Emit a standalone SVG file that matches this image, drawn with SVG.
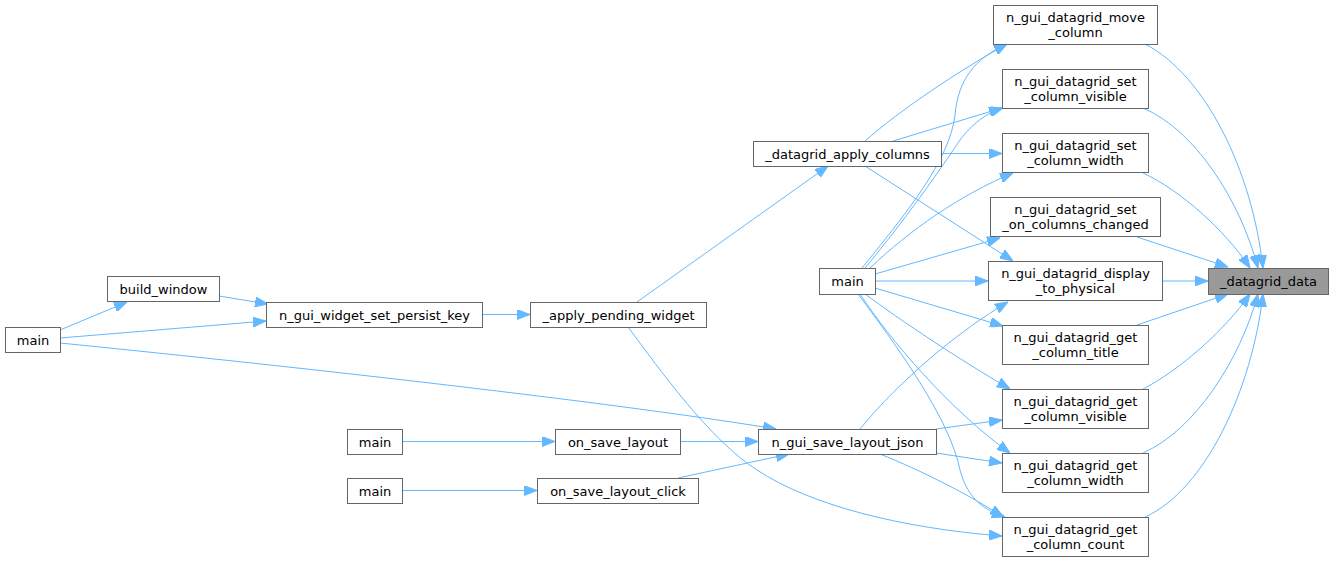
<svg xmlns="http://www.w3.org/2000/svg" width="1333" height="563" viewBox="0 0 1333 563">
<style>
.n rect{fill:#ffffff;stroke:#666666;stroke-width:1}
.n.hl rect{fill:#999999}
text{font-family:"DejaVu Sans",sans-serif;font-size:13px;fill:#000000;text-anchor:middle}
.e path{fill:none;stroke:#63b8ff;stroke-width:1;marker-end:url(#ah)}
</style>
<defs>
<marker id="ah" markerUnits="userSpaceOnUse" markerWidth="13" markerHeight="10" viewBox="0 0 13 10" refX="13" refY="5" orient="auto">
<path d="M0,0 L13,5 L0,10 z" fill="#63b8ff" stroke="#63b8ff"/>
</marker>
</defs>
<rect width="1333" height="563" fill="#ffffff"/>
<g class="e" id="edges">
<path d="M1145,44 C1205,75 1252,170 1263,268"/>
<path d="M1143,108 C1195,130 1240,200 1258,268"/>
<path d="M1143,173 C1180,190 1225,230 1250,268"/>
<path d="M1137,237 L1228,267"/>
<path d="M1162,281 L1208,281"/>
<path d="M1137,325 L1228,294"/>
<path d="M1143,389 C1180,370 1225,330 1250,294"/>
<path d="M1143,453 C1195,430 1240,360 1258,294"/>
<path d="M1145,517 C1205,490 1252,390 1263,294"/>
<path d="M865,141 C900,110 960,70 1007,44"/>
<path d="M893,141 L1002,108"/>
<path d="M941,153.5 L1002,153.5"/>
<path d="M865,166 L1013,261"/>
<path d="M862,268 C905,215 950,160 955,115 C958,80 975,58 1007,44"/>
<path d="M865,268 C905,220 940,170 960,140 C975,120 990,112 1003,108"/>
<path d="M870,268 C910,230 960,195 1013,173"/>
<path d="M875,274 L1000,238"/>
<path d="M875,281 L988,281"/>
<path d="M875,288 L1003,326"/>
<path d="M865,294 C900,320 960,360 1010,389"/>
<path d="M860,294 C890,340 950,410 1010,453"/>
<path d="M858,294 C900,350 950,420 960,470 C968,500 985,510 1005,517"/>
<path d="M637,302 L828,166"/>
<path d="M628,327 C660,370 710,440 757,470 C810,505 900,528 1002,536"/>
<path d="M860,429 C900,380 960,330 1008,302"/>
<path d="M936,429 L1002,420"/>
<path d="M936,453 L1002,463"/>
<path d="M880,454 C920,470 970,495 1003,517"/>
<path d="M60,330 L127,302"/>
<path d="M219,296 L268,304"/>
<path d="M60,338 L266,321"/>
<path d="M60,343 C250,362 600,400 776,429"/>
<path d="M482,314.5 L530,314.5"/>
<path d="M402,441.5 L555,441.5"/>
<path d="M402,490.5 L537,490.5"/>
<path d="M680,441.5 L758,441.5"/>
<path d="M678,478 L789,454"/>
</g>
<g class="n hl" id="n_datagrid_data"><rect x="1208.5" y="268.5" width="120" height="26"/><text x="1268.5" y="286">_datagrid_data</text></g>
<g class="n" id="n_move_column"><rect x="993.5" y="5.5" width="164" height="39"/><text x="1075.5" y="22">n_gui_datagrid_move</text><text x="1075.5" y="37">_column</text></g>
<g class="n" id="n_set_column_visible"><rect x="1002.5" y="69.5" width="146" height="39"/><text x="1075.5" y="86">n_gui_datagrid_set</text><text x="1075.5" y="101">_column_visible</text></g>
<g class="n" id="n_set_column_width"><rect x="1002.5" y="133.5" width="146" height="39"/><text x="1075.5" y="150">n_gui_datagrid_set</text><text x="1075.5" y="165">_column_width</text></g>
<g class="n" id="n_set_on_columns_changed"><rect x="990.5" y="197.5" width="170" height="39"/><text x="1075.5" y="214">n_gui_datagrid_set</text><text x="1075.5" y="229">_on_columns_changed</text></g>
<g class="n" id="n_display_to_physical"><rect x="988.5" y="261.5" width="174" height="39"/><text x="1075.5" y="278">n_gui_datagrid_display</text><text x="1075.5" y="293">_to_physical</text></g>
<g class="n" id="n_get_column_title"><rect x="1002.5" y="325.5" width="146" height="39"/><text x="1075.5" y="342">n_gui_datagrid_get</text><text x="1075.5" y="357">_column_title</text></g>
<g class="n" id="n_get_column_visible"><rect x="1002.5" y="389.5" width="146" height="39"/><text x="1075.5" y="406">n_gui_datagrid_get</text><text x="1075.5" y="421">_column_visible</text></g>
<g class="n" id="n_get_column_width"><rect x="1002.5" y="453.5" width="146" height="39"/><text x="1075.5" y="470">n_gui_datagrid_get</text><text x="1075.5" y="485">_column_width</text></g>
<g class="n" id="n_get_column_count"><rect x="1002.5" y="517.5" width="146" height="39"/><text x="1075.5" y="534">n_gui_datagrid_get</text><text x="1075.5" y="549">_column_count</text></g>
<g class="n" id="n_apply_columns"><rect x="753.5" y="141.5" width="188" height="25"/><text x="847.5" y="158.5">_datagrid_apply_columns</text></g>
<g class="n" id="n_main_mid"><rect x="819.5" y="268.5" width="56" height="26"/><text x="847.5" y="286">main</text></g>
<g class="n" id="n_apply_pending_widget"><rect x="530.5" y="302.5" width="176" height="25"/><text x="618.5" y="319.5">_apply_pending_widget</text></g>
<g class="n" id="n_save_layout_json"><rect x="758.5" y="429.5" width="178" height="25"/><text x="847.5" y="446.5">n_gui_save_layout_json</text></g>
<g class="n" id="n_on_save_layout"><rect x="555.5" y="429.5" width="125" height="25"/><text x="618" y="446.5">on_save_layout</text></g>
<g class="n" id="n_on_save_layout_click"><rect x="537.5" y="478.5" width="161" height="25"/><text x="618" y="495.5">on_save_layout_click</text></g>
<g class="n" id="n_main2"><rect x="347.5" y="429.5" width="55" height="25"/><text x="375" y="446.5">main</text></g>
<g class="n" id="n_main3"><rect x="347.5" y="478.5" width="55" height="25"/><text x="375" y="495.5">main</text></g>
<g class="n" id="n_persist_key"><rect x="266.5" y="302.5" width="216" height="25"/><text x="374.5" y="319.5">n_gui_widget_set_persist_key</text></g>
<g class="n" id="n_build_window"><rect x="107.5" y="276.5" width="112" height="25"/><text x="163.5" y="293.5">build_window</text></g>
<g class="n" id="n_main1"><rect x="5.5" y="327.5" width="55" height="25"/><text x="33" y="344.5">main</text></g>
</svg>
